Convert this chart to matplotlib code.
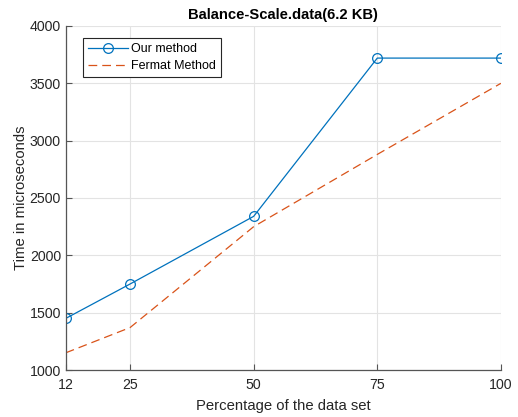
import matplotlib
matplotlib.use("Agg")
import matplotlib.pyplot as plt

percent = [12, 25, 50, 75, 100]
our_method = [1450, 1750, 2340, 3720, 3720]
fermat_method = [1150, 1370, 2250, 2880, 3500]
x_ticks = [12, 25, 50, 75, 100]
y_ticks = [1000, 1500, 2000, 2500, 3000, 3500, 4000]

plt.rcParams['font.family'] = ['Liberation Sans', 'DejaVu Sans']

fig = plt.figure(figsize=(5.18, 4.17), dpi=100)
ax = fig.add_axes([0.127, 0.1127, 0.840, 0.825])

ax.plot(percent, our_method, color='#0072BD', lw=0.9, marker='o',
        markersize=7, markerfacecolor='none', markeredgewidth=0.9,
        label='Our method')
ax.plot(percent, fermat_method, color='#D95319', lw=0.9,
        linestyle=(0, (7, 4)), label='Fermat Method')

ax.set_xlim(12, 100)
ax.set_ylim(1000, 4000)
ax.set_xticks(x_ticks)
ax.set_yticks(y_ticks)
ax.grid(True, color='#e3e3e3', lw=0.8)
ax.set_axisbelow(True)

for s in ['top', 'right']:
    ax.spines[s].set_visible(False)
for s in ['left', 'bottom']:
    ax.spines[s].set_color('#555555')
    ax.spines[s].set_linewidth(0.9)
ax.tick_params(direction='in', length=4, colors='#555555', labelcolor='#262626',
               labelsize=10.2, width=0.8)
ax.tick_params(axis='x', pad=6)

ax.set_title('Balance-Scale.data(6.2 KB)', fontsize=10.6, fontweight='bold',
             color='black', pad=5)
ax.set_xlabel('Percentage of the data set', fontsize=10.7, color='#262626',
              labelpad=5)
ax.set_ylabel('Time in microseconds', fontsize=10.7, color='#262626',
              labelpad=1)

leg = ax.legend(loc='upper left', bbox_to_anchor=(0.039, 0.965), borderaxespad=0,
                fancybox=False, edgecolor='#262626', fontsize=9,
                handlelength=3.2, borderpad=0.4, labelspacing=0.4,
                handletextpad=0.25, framealpha=1)
leg.get_frame().set_linewidth(0.8)

fig.savefig('out.png', dpi=100)
